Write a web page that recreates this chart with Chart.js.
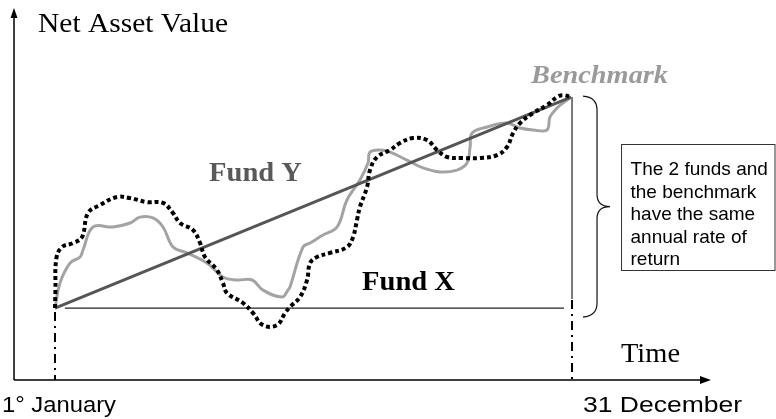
<!DOCTYPE html>
<html>
<head>
<meta charset="utf-8">
<script src="https://cdn.jsdelivr.net/npm/chart.js@4/dist/chart.umd.min.js"></script>
<style>
html,body{margin:0;padding:0;background:#fff;}
#wrap{width:776px;height:419px;}
</style>
</head>
<body>
<div id="wrap"><canvas id="c" width="776" height="419"></canvas></div>
<script>
// ---- data (day of year, net asset value) ----
const startDay = 0;
const endDay = 365;
const startNav = 100;
const endNav = 110;

const fundYDays = [0, 365];
const fundYNav  = [100, 110];

const benchDays = [0, 3.5, 10.6, 17.7, 19.8, 26.9, 41, 53.1, 60.1, 69.3, 76.4, 83.5, 93.4, 107.5, 118.8, 128.7, 139.4, 147.1, 160.6, 164.8, 166.2, 175.4, 180.4, 189.6, 199.5, 206.5, 215.7, 221.4, 222.8, 229.9, 237, 249, 260.3, 272.3, 284.4, 291.4, 293.6, 295, 305.6, 319.7, 328.9, 338.1, 348, 350.1, 355.1, 359.3, 365];
const benchNav  = [100, 101.18, 102.13, 102.42, 102.75, 103.84, 103.84, 104.03, 104.31, 104.27, 103.84, 102.89, 102.61, 102.13, 101.47, 101.33, 101.33, 100.85, 100.52, 100.85, 101.0, 102.89, 103.08, 103.46, 103.84, 105.12, 106.07, 106.87, 107.39, 107.49, 107.39, 107.01, 106.64, 106.45, 106.54, 106.87, 107.63, 108.29, 108.58, 108.77, 108.53, 108.44, 108.44, 109.05, 109.48, 109.72, 110];

const fundXDays = [0, 0.3, 1, 5, 12.7, 19.1, 23.3, 31.8, 43.9, 53.1, 65.1, 76.4, 83.5, 88.4, 97.6, 102.6, 106.1, 114.6, 118.8, 121.7, 133, 140.1, 147.1, 157, 162.7, 166.2, 173.3, 178.3, 180.4, 185.3, 194.5, 206.5, 210.8, 213.6, 215.7, 220.7, 222.8, 227.8, 237, 244, 253.2, 263.1, 270.2, 277.3, 288.6, 300.6, 312.7, 319.7, 324, 329, 338.1, 348, 355.1, 359.3, 365];
const fundXNav  = [100, 100.8, 102.37, 102.89, 103.08, 103.36, 104.5, 104.88, 105.26, 105.21, 105.02, 104.98, 104.5, 104.03, 103.7, 103.08, 102.42, 101.8, 101.18, 100.71, 100.24, 99.76, 99.19, 99.19, 99.76, 100.05, 100.52, 101.33, 102.13, 102.42, 102.61, 102.89, 103.36, 104.17, 104.79, 105.73, 106.54, 107.16, 107.49, 107.82, 108.06, 107.96, 107.49, 107.16, 107.11, 107.11, 107.25, 107.63, 108.29, 108.77, 109.24, 109.62, 110, 110.09, 110];

// reference guides
const baseLineDays = [7, 360];
const axisTitleY = 'Net Asset Value';
const axisTitleX = 'Time';
const tickLabels = ['1° January', '31 December'];
const seriesLabels = ['Fund Y', 'Fund X', 'Benchmark'];
const noteLines = ['The 2 funds and', 'the benchmark', 'have the same', 'annual rate of', 'return'];

function pts(xs, ys){ return xs.map((x,i)=>({x:x, y:ys[i]})); }

const SERIF = '"Liberation Serif","Times New Roman",serif';
const SANS = '"Liberation Sans",Arial,sans-serif';

// draw text stretched horizontally to a given width
function wideText(ctx, t, x, y, w){
  const m = ctx.measureText(t).width;
  ctx.save();
  ctx.translate(x, y);
  ctx.scale(w / m, 1);
  ctx.fillText(t, 0, 0);
  ctx.restore();
}

const decor = {
  id: 'decor',
  beforeDatasetsDraw(chart){
    const ctx = chart.ctx, a = chart.chartArea;
    const xs = chart.scales.x, ys = chart.scales.y;
    ctx.save();
    // axes with arrows
    ctx.strokeStyle = '#000'; ctx.fillStyle = '#000'; ctx.lineWidth = 1.5;
    ctx.beginPath();
    ctx.moveTo(a.left, a.bottom); ctx.lineTo(a.left, a.top + 6);
    ctx.moveTo(a.left, a.bottom); ctx.lineTo(a.right - 6, a.bottom);
    ctx.stroke();
    ctx.beginPath();
    ctx.moveTo(a.left, a.top); ctx.lineTo(a.left - 3.5, a.top + 10); ctx.lineTo(a.left + 3.5, a.top + 10); ctx.closePath();
    ctx.moveTo(a.right + 1, a.bottom); ctx.lineTo(a.right - 10, a.bottom - 4); ctx.lineTo(a.right - 10, a.bottom + 4); ctx.closePath();
    ctx.fill();

    const x0 = xs.getPixelForValue(startDay), x1 = xs.getPixelForValue(endDay);
    const y0 = ys.getPixelForValue(startNav), y1 = ys.getPixelForValue(endNav);
    // dash-dot drop lines
    ctx.lineWidth = 2; ctx.setLineDash([9,5,2,5]);
    ctx.beginPath();
    ctx.moveTo(x0, y0 + 4); ctx.lineTo(x0, a.bottom);
    ctx.moveTo(x1 + 1, y0 - 8); ctx.lineTo(x1 + 1, a.bottom);
    ctx.stroke();
    ctx.setLineDash([]);
    // thin solid vertical at year end
    ctx.lineWidth = 1.2; ctx.strokeStyle = '#222';
    ctx.beginPath(); ctx.moveTo(x1 + 1, y1); ctx.lineTo(x1 + 1, y0 - 9); ctx.stroke();

    // curly brace
    const bx = x1 + 12, bm = x1 + 26, bt = y1 - 1, bb = y0 + 9, bc = (bt + bb) / 2;
    ctx.lineWidth = 1.2; ctx.strokeStyle = '#111';
    ctx.beginPath();
    ctx.moveTo(bx, bt);
    ctx.quadraticCurveTo(bm, bt + 1, bm, bt + 14);
    ctx.lineTo(bm, bc - 12);
    ctx.quadraticCurveTo(bm, bc, bm + 13, bc);
    ctx.quadraticCurveTo(bm, bc, bm, bc + 12);
    ctx.lineTo(bm, bb - 14);
    ctx.quadraticCurveTo(bm, bb - 1, bx, bb);
    ctx.stroke();

    // note box
    const boxL = x1 + 50.5;
    ctx.lineWidth = 1; ctx.strokeStyle = '#333';
    ctx.strokeRect(boxL, 144.5, chart.width - 1 - boxL, 126);
    ctx.fillStyle = '#000'; ctx.font = '19px ' + SANS; ctx.textBaseline = 'alphabetic'; ctx.textAlign = 'left';
    noteLines.forEach((t,i)=> ctx.fillText(t, boxL + 9, 175 + i * 22.5));

    // axis titles
    ctx.font = '28px ' + SERIF;
    wideText(ctx, axisTitleY, 38, 32, 190);
    ctx.font = '27px ' + SERIF;
    wideText(ctx, axisTitleX, 621, 362, 59);

    // tick labels
    ctx.font = '22px ' + SANS;
    wideText(ctx, tickLabels[0], 2, 412, 114);
    wideText(ctx, tickLabels[1], 583, 412, 159);

    // series labels
    ctx.font = 'bold 28px ' + SERIF;
    ctx.fillStyle = '#595959';
    wideText(ctx, seriesLabels[0], 209, 181, 93);
    ctx.fillStyle = '#000';
    wideText(ctx, seriesLabels[1], 362, 290, 93);
    ctx.font = 'italic bold 26px ' + SERIF;
    ctx.fillStyle = '#9a9a9a';
    wideText(ctx, seriesLabels[2], 531, 83, 137);
    ctx.restore();
  }
};

new Chart(document.getElementById('c'), {
  type: 'line',
  data: {
    datasets: [
      { label: seriesLabels[1], data: pts(fundXDays, fundXNav), borderColor: '#000', borderWidth: 4,
        borderDash: [4,3], borderCapStyle: 'butt', tension: 0.4, pointRadius: 0, fill: false, order: 1 },
      { label: seriesLabels[0], data: pts(fundYDays, fundYNav), borderColor: '#555', borderWidth: 3,
        tension: 0, pointRadius: 0, fill: false, order: 2 },
      { label: seriesLabels[2], data: pts(benchDays, benchNav), borderColor: '#a3a3a3', borderWidth: 3,
        tension: 0.4, pointRadius: 0, fill: false, order: 3 },
      { label: 'base', data: pts(baseLineDays, [startNav, startNav]), borderColor: '#222', borderWidth: 1.2,
        tension: 0, pointRadius: 0, fill: false, order: 4 }
    ]
  },
  options: {
    responsive: false,
    animation: false,
    events: [],
    layout: { padding: { left: 14, top: 8, right: 66, bottom: 39 } },
    plugins: { legend: { display: false }, tooltip: { enabled: false }, title: { display: false } },
    scales: {
      x: { type: 'linear', display: false, min: -29.0, max: 463.3 },
      y: { type: 'linear', display: false, min: 96.59, max: 114.22 }
    }
  },
  plugins: [decor]
});
</script>
</body>
</html>
